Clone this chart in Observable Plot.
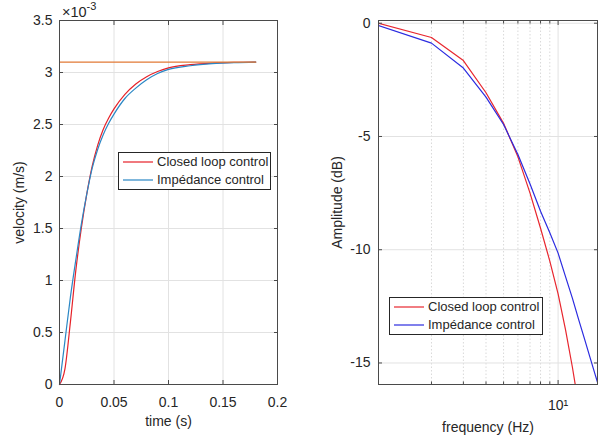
<!DOCTYPE html>
<html><head><meta charset="utf-8">
<script src="https://cdn.jsdelivr.net/npm/d3@7"></script>
<script src="https://cdn.jsdelivr.net/npm/@observablehq/plot@0.6"></script>
<style>
body{margin:0;background:#fff;}
#wrap{position:relative;width:608px;height:437px;overflow:hidden;font-family:"Liberation Sans",Arial,sans-serif;color:#262626;}
.chart{position:absolute;top:0;}
.legend{position:absolute;background:#fff;border:1px solid #262626;font-size:13px;color:#262626;box-sizing:border-box;}
.legend .row{position:absolute;left:0;height:18px;width:100%;}
.legend svg{position:absolute;left:4px;top:0;}
.legend .lb{position:absolute;left:38px;top:1px;white-space:nowrap;line-height:16px;}
#exp{position:absolute;left:62px;top:1px;font-size:14.5px;color:#262626;white-space:nowrap;}
#exp sup{font-size:11px;position:relative;top:-1px;}
</style></head>
<body>
<div id="wrap">
  <div id="left" class="chart" style="left:0"></div>
  <div id="right" class="chart" style="left:300px"></div>
  <div id="exp">×10<sup>-3</sup></div>
  <div id="legL" class="legend" style="left:118px;top:152px;width:153px;height:38px"></div>
  <div id="legR" class="legend" style="left:389px;top:297px;width:154px;height:38px"></div>
</div>
<script>
// ---- Left panel: step response (velocity in units of 1e-3 m/s) ----
const time = [0, 0.005, 0.01, 0.015, 0.02, 0.025, 0.03, 0.035, 0.04, 0.045, 0.05, 0.06, 0.07, 0.08, 0.09, 0.1, 0.12, 0.14, 0.16, 0.18];
const closedLoopVel = [0, 0.15, 0.6, 1.1, 1.5, 1.83, 2.1, 2.3, 2.45, 2.56, 2.65, 2.79, 2.89, 2.96, 3.01, 3.045, 3.075, 3.09, 3.097, 3.1];
const impedanceVel = [0, 0.42, 0.84, 1.2, 1.54, 1.83, 2.08, 2.26, 2.4, 2.51, 2.6, 2.75, 2.85, 2.93, 2.99, 3.03, 3.065, 3.085, 3.095, 3.1];
const refTime = [0, 0.18];
const refVel = [3.1, 3.1];
const timeTicks = [0, 0.05, 0.1, 0.15, 0.2];
const velTicks = [0, 0.5, 1, 1.5, 2, 2.5, 3, 3.5];

// ---- Right panel: frequency response ----
const freqRed = [1, 2, 3, 4, 5, 6, 7, 8, 9, 10, 11, 12, 13];
const closedLoopDb = [0.02, -0.63, -1.65, -3.07, -4.42, -5.9, -7.5, -9.05, -10.5, -11.95, -13.55, -15.2, -16.9];
const freqBlue = [1, 2, 3, 4, 5, 6, 7, 8, 9, 10, 11, 12, 13, 14, 15, 16, 17];
const impedanceDb = [-0.08, -0.88, -1.98, -3.26, -4.47, -5.8, -7.1, -8.3, -9.25, -10.15, -11.2, -12.15, -13.1, -13.95, -14.75, -15.5, -16.2];
const freqMajor = [10];
const freqMinor = [2, 3, 4, 5, 6, 7, 8, 9];
const dbTicks = [0, -5, -10, -15];

const legendNames = ["Closed loop control", "Impédance control"];
const colRedL = "#e62128", colBlueL = "#2a87c5", colOrange = "#e27a36";
const colRedR = "#e8262e", colBlueR = "#2b2be0";
const gridCol = "#e2e2e2", frameCol = "#4a4a4a", textCol = "#262626";
const font = '"Liberation Sans", Arial, sans-serif';

const zip = (xs, ys) => xs.map((x, i) => ({x, y: ys[i]}));

const left = Plot.plot({
  width: 300, height: 437,
  marginLeft: 59, marginRight: 23, marginTop: 20, marginBottom: 53,
  style: {fontFamily: font, fontSize: "14px", color: textCol, background: "transparent"},
  x: {domain: [0, 0.2]},
  y: {domain: [0, 3.5]},
  marks: [
    Plot.gridX(timeTicks, {stroke: gridCol, strokeOpacity: 1}),
    Plot.gridY(velTicks, {stroke: gridCol, strokeOpacity: 1}),
    Plot.line(zip(time, closedLoopVel), {x: "x", y: "y", stroke: colRedL, strokeWidth: 1.2, curve: "monotone-x"}),
    Plot.line(zip(time, impedanceVel), {x: "x", y: "y", stroke: colBlueL, strokeWidth: 1.2, curve: "monotone-x"}),
    Plot.line(zip(refTime, refVel), {x: "x", y: "y", stroke: colOrange, strokeWidth: 1.2}),
    Plot.frame({stroke: frameCol}),
    Plot.axisX(timeTicks, {anchor: "bottom", tickSize: -4, tickPadding: 17, stroke: frameCol, tickFormat: d => String(d), label: "time (s)", labelAnchor: "center", labelArrow: "none", labelOffset: 41}),
    Plot.axisX(timeTicks, {anchor: "top", tickSize: -4, stroke: frameCol, tickFormat: () => "", label: null}),
    Plot.axisY(velTicks, {anchor: "left", tickSize: -4, tickPadding: 11, stroke: frameCol, tickFormat: d => String(d), label: "velocity (m/s)", labelAnchor: "center", labelArrow: "none", labelOffset: 45}),
    Plot.axisY(velTicks, {anchor: "right", tickSize: -4, stroke: frameCol, tickFormat: () => "", label: null})
  ]
});
document.getElementById("left").append(left);

const right = Plot.plot({
  width: 308, height: 437,
  marginLeft: 78, marginRight: 11, marginTop: 20, marginBottom: 53,
  style: {fontFamily: font, fontSize: "14px", color: textCol, background: "transparent"},
  x: {type: "log", domain: [1.02, 16.5]},
  y: {domain: [-15.95, 0.12]},
  marks: [
    Plot.gridX(freqMinor, {stroke: "#d9d9d9", strokeOpacity: 1, strokeDasharray: "1.5,2"}),
    Plot.gridX(freqMajor, {stroke: gridCol, strokeOpacity: 1}),
    Plot.gridY(dbTicks, {stroke: gridCol, strokeOpacity: 1}),
    Plot.line(zip(freqRed, closedLoopDb), {x: "x", y: "y", stroke: colRedR, strokeWidth: 1.2, clip: true}),
    Plot.line(zip(freqBlue, impedanceDb), {x: "x", y: "y", stroke: colBlueR, strokeWidth: 1.2, clip: true}),
    Plot.frame({stroke: frameCol}),
    Plot.axisX(freqMajor, {anchor: "bottom", tickSize: -4, tickPadding: 20, stroke: frameCol, tickFormat: () => "10¹", label: "frequency (Hz)", labelAnchor: "center", labelArrow: "none", labelOffset: 47}),
    Plot.axisX(freqMinor, {anchor: "bottom", tickSize: -2.5, stroke: frameCol, tickFormat: () => "", label: null}),
    Plot.axisX(freqMajor, {anchor: "top", tickSize: -4, stroke: frameCol, tickFormat: () => "", label: null}),
    Plot.axisX(freqMinor, {anchor: "top", tickSize: -2.5, stroke: frameCol, tickFormat: () => "", label: null}),
    Plot.axisY(dbTicks, {anchor: "left", tickSize: -4, tickPadding: 12, stroke: frameCol, tickFormat: d => String(d), label: "Amplitude (dB)", labelAnchor: "center", labelArrow: "none", labelOffset: 46}),
    Plot.axisY(dbTicks, {anchor: "right", tickSize: -4, stroke: frameCol, tickFormat: () => "", label: null})
  ]
});
document.getElementById("right").append(right);

function legend(id, colors) {
  const el = document.getElementById(id);
  legendNames.forEach((name, i) => {
    const row = document.createElement("div");
    row.className = "row";
    row.style.top = (i === 0 ? 0 : 18) + "px";
    row.innerHTML = `<svg width="30" height="18"><line x1="0" x2="30" y1="9" y2="9" stroke="${colors[i]}" stroke-width="1.2"/></svg><div class="lb">${name}</div>`;
    el.append(row);
  });
}
legend("legL", [colRedL, colBlueL]);
legend("legR", [colRedR, colBlueR]);
</script>
</body></html>
